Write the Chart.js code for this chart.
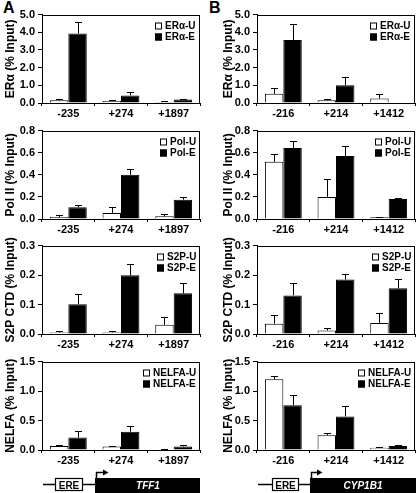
<!DOCTYPE html>
<html>
<head>
<meta charset="utf-8">
<script src="https://cdn.jsdelivr.net/npm/chart.js@4"></script>
<style>
  body { margin: 0; background: #fff; }
  #wrap { position: relative; width: 416px; height: 493px; overflow: hidden; font-family: "Liberation Sans", Arial, sans-serif; }
  canvas { position: absolute; }
  .tag { position: absolute; font: bold 16px "Liberation Sans", Arial, sans-serif; }
  svg { position: absolute; left: 0; top: 0; }
</style>
</head>
<body>
<div id="wrap">
  <div class="tag" style="left:3px;top:-1px">A</div>
  <div class="tag" style="left:209px;top:-1px">B</div>
  <canvas id="a1"></canvas><canvas id="b1"></canvas>
  <canvas id="a2"></canvas><canvas id="b2"></canvas>
  <canvas id="a3"></canvas><canvas id="b3"></canvas>
  <canvas id="a4"></canvas><canvas id="b4"></canvas>
  <svg width="416" height="493">
    <!-- TFF1 -->
    <line x1="43" y1="484.5" x2="95" y2="484.5" stroke="#000" stroke-width="1.5"/>
    <rect x="55.5" y="478.5" width="27" height="12" fill="#fff" stroke="#000" stroke-width="1.2"/>
    <text x="69" y="488.5" font-size="10" font-weight="bold" text-anchor="middle" font-family="Liberation Sans, Arial">ERE</text>
    <rect x="95" y="478" width="105" height="16" fill="#000"/>
    <text x="148" y="489" font-size="10" font-weight="bold" font-style="italic" fill="#fff" text-anchor="middle" font-family="Liberation Sans, Arial">TFF1</text>
    <polyline points="96.5,478 96.5,472.5 104,472.5" fill="none" stroke="#000" stroke-width="1.5"/>
    <polygon points="103,469.5 108.5,472.5 103,475.5" fill="#000"/>
    <!-- CYP1B1 -->
    <line x1="258" y1="484.5" x2="310" y2="484.5" stroke="#000" stroke-width="1.5"/>
    <rect x="272.5" y="478.5" width="26" height="12" fill="#fff" stroke="#000" stroke-width="1.2"/>
    <text x="285.5" y="488.5" font-size="10" font-weight="bold" text-anchor="middle" font-family="Liberation Sans, Arial">ERE</text>
    <rect x="310" y="478" width="106" height="16" fill="#000"/>
    <text x="363" y="489" font-size="10" font-weight="bold" font-style="italic" fill="#fff" text-anchor="middle" font-family="Liberation Sans, Arial">CYP1B1</text>
    <polyline points="311.5,478 311.5,472.5 318,472.5" fill="none" stroke="#000" stroke-width="1.5"/>
    <polygon points="317,469.5 322.5,472.5 317,475.5" fill="#000"/>
  </svg>
</div>
<script>
// sites (x categories)
const SITES_A = ['-235', '+274', '+1897'];
const SITES_B = ['-216', '+214', '+1412'];

// ER alpha
const ER_A_U = [0.15, 0.11, 0.06];   const ER_A_U_ERR = [0.05, 0.05, 0.03];
const ER_A_E = [3.93, 0.43, 0.20];   const ER_A_E_ERR = [0.66, 0.21, 0.03];
const ER_B_U = [0.52, 0.15, 0.26];   const ER_B_U_ERR = [0.34, 0.05, 0.24];
const ER_B_E = [3.56, 1.00, 0.03];   const ER_B_E_ERR = [0.92, 0.45, 0.0];

// Pol II
const POL_A_U = [0.018, 0.054, 0.024]; const POL_A_U_ERR = [0.015, 0.055, 0.025];
const POL_A_E = [0.106, 0.40, 0.175];  const POL_A_E_ERR = [0.025, 0.05, 0.025];
const POL_B_U = [0.517, 0.20, 0.015];  const POL_B_U_ERR = [0.07, 0.16, 0.006];
const POL_B_E = [0.643, 0.57, 0.18];   const POL_B_E_ERR = [0.065, 0.09, 0.012];

// S2P CTD
const S2P_A_U = [0.005, 0.005, 0.031]; const S2P_A_U_ERR = [0.005, 0.005, 0.027];
const S2P_A_E = [0.101, 0.199, 0.138]; const S2P_A_E_ERR = [0.036, 0.038, 0.036];
const S2P_B_U = [0.035, 0.012, 0.037]; const S2P_B_U_ERR = [0.03, 0.01, 0.033];
const S2P_B_E = [0.131, 0.185, 0.155]; const S2P_B_E_ERR = [0.043, 0.019, 0.03];

// NELFA
const NEL_A_U = [0.066, 0.06, 0.01];   const NEL_A_U_ERR = [0.027, 0.01, 0.003];
const NEL_A_E = [0.21, 0.31, 0.06];    const NEL_A_E_ERR = [0.11, 0.09, 0.017];
const NEL_B_U = [1.20, 0.25, 0.04];    const NEL_B_U_ERR = [0.06, 0.04, 0.01];
const NEL_B_E = [0.76, 0.57, 0.066];   const NEL_B_E_ERR = [0.17, 0.18, 0.014];

const FONT = '"Liberation Sans", Arial, sans-serif';

// error bars (up only, T cap) from data + scale
const errorBars = {
  id: 'errorBars',
  afterDatasetsDraw(chart) {
    const { ctx } = chart;
    const y = chart.scales.y;
    ctx.save();
    ctx.strokeStyle = '#000';
    ctx.lineWidth = 1;
    chart.data.datasets.forEach((ds, i) => {
      chart.getDatasetMeta(i).data.forEach((bar, j) => {
        const e = ds.errors[j];
        if (!e) return;
        const x = Math.round(bar.x) + 0.5;
        const top = Math.round(y.getPixelForValue(ds.data[j] + e)) + 0.5;
        ctx.beginPath();
        ctx.moveTo(x, bar.y);
        ctx.lineTo(x, top);
        ctx.moveTo(x - 3.5, top);
        ctx.lineTo(x + 3.5, top);
        ctx.stroke();
      });
    });
    ctx.restore();
  },
};

// box around plot + legend inside top right
const frame = {
  id: 'frame',
  afterDraw(chart) {
    const { ctx, chartArea: a } = chart;
    ctx.save();
    ctx.strokeStyle = '#000';
    ctx.lineWidth = 1;
    ctx.strokeRect(Math.round(a.left) + 0.5, Math.round(a.top) + 0.5,
      Math.round(a.right - a.left) - 1, Math.round(a.bottom - a.top));
    ctx.font = 'bold 10px ' + FONT;
    ctx.textBaseline = 'middle';
    const labels = chart.data.datasets.map(d => d.label);
    const w = Math.max(...labels.map(l => ctx.measureText(l).width));
    const bx = Math.round(a.right - 4 - w - 3 - 7);
    labels.forEach((l, i) => {
      const cy = Math.round(a.top + 11.5 + i * 10.5);
      const ds = chart.data.datasets[i];
      ctx.fillStyle = ds.backgroundColor;
      ctx.fillRect(bx, cy - 3.5, 7, 7);
      ctx.strokeRect(bx + 0.5, cy - 3, 6, 6);
      ctx.fillStyle = '#000';
      ctx.fillText(l, bx + 10, cy + 0.5);
    });
    ctx.restore();
  },
};

function panel(id, left, top, width, yw, titlePad, sites, title, names, u, uErr, e, eErr, max, step) {
  const el = document.getElementById(id);
  const padTop = 8, xh = 22, plotH = 90;
  el.width = width;
  el.height = padTop + plotH + xh;
  el.style.left = left + 'px';
  el.style.top = (top - padTop) + 'px';
  const plotW = 158;
  return new Chart(el, {
    type: 'bar',
    data: {
      labels: sites,
      datasets: [
        { label: names[0], data: u, errors: uErr, backgroundColor: '#ffffff', borderColor: '#000', borderWidth: 1,
          categoryPercentage: 0.7, barPercentage: 1.0 },
        { label: names[1], data: e, errors: eErr, backgroundColor: '#000000', borderColor: '#000', borderWidth: 1,
          categoryPercentage: 0.7, barPercentage: 1.0 },
      ],
    },
    options: {
      responsive: false,
      animation: false,
      devicePixelRatio: 1,
      layout: { padding: { top: padTop, right: width - yw - plotW, left: 0, bottom: 0 } },
      plugins: { legend: { display: false }, tooltip: { enabled: false } },
      scales: {
        x: {
          afterFit: s => { s.height = xh; },
          grid: { drawOnChartArea: false, color: '#000', tickLength: 3, offset: true },
          border: { color: '#000' },
          ticks: { color: '#000', font: { family: FONT, size: 11, weight: 'bold' }, padding: 1, maxRotation: 0 },
        },
        y: {
          min: 0, max,
          afterFit: s => { s.width = yw; },
          grid: { drawOnChartArea: false, color: '#000', tickLength: 4 },
          border: { color: '#000' },
          ticks: { stepSize: step, color: '#000', padding: 3, font: { family: FONT, size: 11, weight: 'bold' },
            callback: v => v.toFixed(1) },
          title: { display: true, text: title, color: '#000', padding: { top: titlePad, bottom: 0 },
            font: { family: FONT, size: 12, weight: 'bold' } },
        },
      },
    },
    plugins: [errorBars, frame],
  });
}

const ROW_TOPS = [13, 129, 244, 360];

panel('a1', 0, ROW_TOPS[0], 205, 42, 3, SITES_A, 'ERα (% Input)', ['ERα-U', 'ERα-E'], ER_A_U, ER_A_U_ERR, ER_A_E, ER_A_E_ERR, 5, 1);
panel('b1', 213, ROW_TOPS[0], 203, 44, 8, SITES_B, 'ERα (% Input)', ['ERα-U', 'ERα-E'], ER_B_U, ER_B_U_ERR, ER_B_E, ER_B_E_ERR, 5, 1);
panel('a2', 0, ROW_TOPS[1], 205, 42, 3, SITES_A, 'Pol II (% Input)', ['Pol-U', 'Pol-E'], POL_A_U, POL_A_U_ERR, POL_A_E, POL_A_E_ERR, 0.8, 0.2);
panel('b2', 213, ROW_TOPS[1], 203, 44, 8, SITES_B, 'Pol II (% Input)', ['Pol-U', 'Pol-E'], POL_B_U, POL_B_U_ERR, POL_B_E, POL_B_E_ERR, 0.8, 0.2);
panel('a3', 0, ROW_TOPS[2], 205, 42, 3, SITES_A, 'S2P CTD (% Input)', ['S2P-U', 'S2P-E'], S2P_A_U, S2P_A_U_ERR, S2P_A_E, S2P_A_E_ERR, 0.3, 0.1);
panel('b3', 213, ROW_TOPS[2], 203, 44, 8, SITES_B, 'S2P CTD (% Input)', ['S2P-U', 'S2P-E'], S2P_B_U, S2P_B_U_ERR, S2P_B_E, S2P_B_E_ERR, 0.3, 0.1);
panel('a4', 0, ROW_TOPS[3], 205, 42, 3, SITES_A, 'NELFA (% Input)', ['NELFA-U', 'NELFA-E'], NEL_A_U, NEL_A_U_ERR, NEL_A_E, NEL_A_E_ERR, 1.5, 0.5);
panel('b4', 213, ROW_TOPS[3], 203, 44, 8, SITES_B, 'NELFA (% Input)', ['NELFA-U', 'NELFA-E'], NEL_B_U, NEL_B_U_ERR, NEL_B_E, NEL_B_E_ERR, 1.5, 0.5);
</script>
</body>
</html>
